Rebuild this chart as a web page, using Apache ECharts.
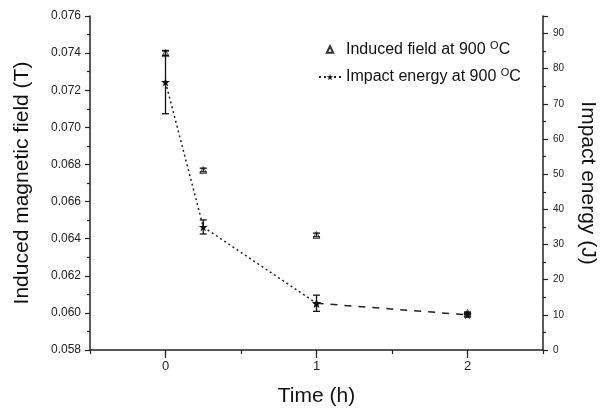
<!DOCTYPE html>
<html>
<head>
<meta charset="utf-8">
<script src="https://cdn.jsdelivr.net/npm/echarts@6/dist/echarts.min.js"></script>
<style>html,body{margin:0;padding:0;background:#fff}#c{width:600px;height:415px}</style>
</head>
<body>
<div id="c"></div>
<script>
// Data
const times = [0, 0.25, 1, 2];
const fieldValues = [0.0740, 0.0677, 0.0642, 0.0600];
const fieldErrors = [0.00012, 0.0001, 0.0001, 0.00005];
const energyValues = [76.2, 35.0, 13.3, 10.0];
const energyErrors = [9.0, 2.0, 2.3, 0.6];
const xTickLabels = [0, 1, 2];
const fieldName = 'Induced field at 900 OC';
const energyName = 'Impact energy at 900 OC';

const FONT = 'Liberation Sans, Arial, sans-serif';
const pairs = (xs, ys) => xs.map((x, i) => [x, ys[i]]);
const errData = (xs, ys, es) => xs.map((x, i) => [x, ys[i] - es[i], ys[i] + es[i]]);

function errRender(params, api) {
  const x = api.value(0);
  const lo = api.coord([x, api.value(1)]);
  const hi = api.coord([x, api.value(2)]);
  const w = 3.5;
  const st = { stroke: '#111', lineWidth: 1.3 };
  return {
    type: 'group',
    children: [
      { type: 'line', shape: { x1: lo[0], y1: lo[1], x2: hi[0], y2: hi[1] }, style: st },
      { type: 'line', shape: { x1: lo[0] - w, y1: lo[1], x2: lo[0] + w, y2: lo[1] }, style: st },
      { type: 'line', shape: { x1: hi[0] - w, y1: hi[1], x2: hi[0] + w, y2: hi[1] }, style: st }
    ]
  };
}

const chart = echarts.init(document.getElementById('c'), null, { renderer: 'canvas' });
const axisLine = { show: true, onZero: false, lineStyle: { color: '#222', width: 1.5 } };
const tickStyle = { color: '#222', width: 1.2 };
const STAR = 'path://M50,0 L61,35 L98,35 L68,57 L79,91 L50,70 L21,91 L32,57 L2,35 L39,35 Z';

chart.setOption({
  animation: false,
  backgroundColor: '#fff',
  textStyle: { fontFamily: FONT },
  grid: { left: 90, right: 57, top: 16, bottom: 65, outerBoundsMode: 'none', containLabel: false },
  legend: {
    data: [fieldName, energyName],
    orient: 'vertical',
    left: 313,
    top: 35,
    itemWidth: 22,
    itemHeight: 8,
    itemGap: 10,
    formatter: n => n.replace(' OC', ' {sup|O}{n|C}'),
    textStyle: {
      fontFamily: FONT, fontSize: 16, color: '#111',
      rich: {
        sup: { fontSize: 11, fontFamily: FONT, color: '#111', padding: [0, 0, 8, 0] },
        n: { fontSize: 16, fontFamily: FONT, color: '#111' }
      }
    }
  },
  xAxis: [
    {
      type: 'value', min: -0.5, max: 2.5, interval: 0.5,
      name: 'Time (h)', nameLocation: 'middle', nameGap: 36,
      nameTextStyle: { fontSize: 21, color: '#111', fontFamily: FONT },
      axisLine: axisLine,
      axisTick: { show: true, length: 4, lineStyle: tickStyle },
      axisLabel: { show: false },
      splitLine: { show: false }
    },
    {
      type: 'value', min: -0.5, max: 2.5, position: 'bottom', offset: 0,
      axisLine: { show: false, onZero: false },
      axisTick: { show: true, length: 8, customValues: xTickLabels, lineStyle: tickStyle },
      axisLabel: { show: true, customValues: xTickLabels, fontSize: 13, color: '#222', margin: 10, fontFamily: FONT },
      splitLine: { show: false }
    }
  ],
  yAxis: [
    {
      type: 'value', min: 0.058, max: 0.076, interval: 0.002, position: 'left',
      name: 'Induced magnetic field (T)', nameLocation: 'middle', nameGap: 57,
      nameTextStyle: { fontSize: 21, color: '#111', fontFamily: FONT },
      axisLine: axisLine,
      axisTick: { show: true, length: 5, lineStyle: tickStyle },
      minorTick: { show: true, splitNumber: 2, length: 3, lineStyle: tickStyle },
      axisLabel: { fontSize: 12, color: '#222', margin: 9, formatter: v => v.toFixed(3), fontFamily: FONT },
      splitLine: { show: false }
    },
    {
      type: 'value', min: 0, max: 95, interval: 10, position: 'right',
      name: 'Impact energy (J)', nameLocation: 'middle', nameGap: 34, nameRotate: -90,
      nameTextStyle: { fontSize: 21, color: '#111', fontFamily: FONT },
      axisLine: axisLine,
      axisTick: { show: true, length: 5, lineStyle: tickStyle },
      minorTick: { show: true, splitNumber: 2, length: 3, lineStyle: tickStyle },
      axisLabel: { fontSize: 10, color: '#222', margin: 10, showMaxLabel: false,
        formatter: v => (v % 10 === 0 ? String(v) : ''), fontFamily: FONT },
      splitLine: { show: false }
    }
  ],
  series: [
    {
      name: fieldName, type: 'line', xAxisIndex: 0, yAxisIndex: 0,
      data: pairs(times, fieldValues),
      symbol: 'triangle', symbolSize: 7,
      lineStyle: { opacity: 0, width: 0 },
      itemStyle: { color: 'rgba(255,255,255,0)', borderColor: '#333', borderWidth: 0.8 },
      z: 3
    },
    {
      name: 'fieldErr', type: 'custom', xAxisIndex: 0, yAxisIndex: 0,
      data: errData(times, fieldValues, fieldErrors),
      renderItem: errRender, encode: { x: 0, y: [1, 2] }, z: 4
    },
    {
      name: energyName, type: 'line', xAxisIndex: 0, yAxisIndex: 1,
      data: pairs(times.slice(0, 3), energyValues.slice(0, 3)),
      symbol: STAR, symbolSize: 9,
      lineStyle: { color: '#222', width: 1.5, type: [2, 3] },
      itemStyle: { color: '#111' },
      z: 5
    },
    {
      name: 'energy2', type: 'line', xAxisIndex: 0, yAxisIndex: 1,
      data: pairs(times.slice(2), energyValues.slice(2)),
      symbol: STAR, symbolSize: 9,
      lineStyle: { color: '#222', width: 1.5, type: [7, 7] },
      itemStyle: { color: '#111' },
      z: 5
    },
    {
      name: 'energyErr', type: 'custom', xAxisIndex: 0, yAxisIndex: 1,
      data: errData(times, energyValues, energyErrors),
      renderItem: errRender, encode: { x: 0, y: [1, 2] }, z: 6
    }
  ]
});
</script>
</body>
</html>
